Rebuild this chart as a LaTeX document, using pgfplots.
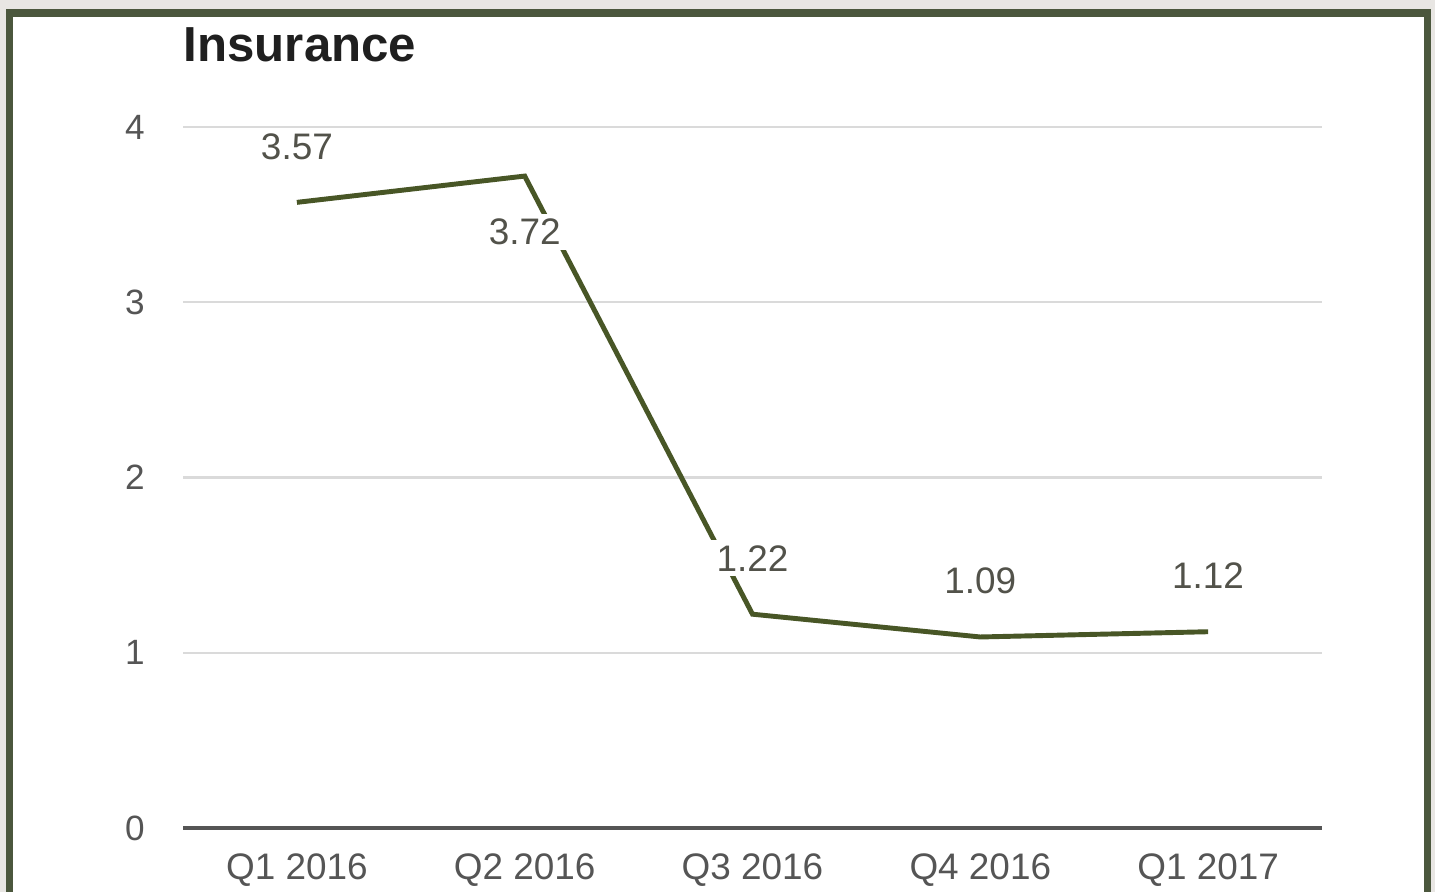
\documentclass[border=0pt]{standalone}
\usepackage{pgfplots}
\pgfplotsset{compat=1.18}
\usepackage{pgfplotstable}
\usepackage{fontspec}
\setmainfont{Liberation Sans}
\definecolor{framec}{RGB}{75,87,61}
\definecolor{bgout}{RGB}{232,230,227}
\definecolor{linegreen}{RGB}{72,86,38}
\definecolor{gridc}{RGB}{218,218,218}
\definecolor{labc}{RGB}{82,82,74}
\definecolor{tickc}{RGB}{85,85,85}

% Insurance, quarterly
\pgfplotstableread{
x y off
0 3.57 0.56
1 3.72 -0.56
2 1.22 0.56
3 1.09 0.56
4 1.12 0.56
}\datatable

\begin{document}
\begin{tikzpicture}[x=1cm,y=1cm]
\fill[bgout] (0,0) rectangle (14.35,8.92);
\fill[framec] (0.06,0) rectangle (14.31,8.83);
\fill[white] (0.13,0) rectangle (14.24,8.75);
\useasboundingbox (0,0) rectangle (14.35,8.92);
\node[anchor=base west, inner sep=0, font=\fontsize{14}{16}\selectfont\bfseries, text=black!88] at (1.83,8.30) {Insurance};
\begin{axis}[
  at={(1.83cm,0.64cm)}, anchor=south west,
  scale only axis, width=11.39cm, height=7.01cm,
  xmin=-0.5, xmax=4.5, ymin=0, ymax=4,
  axis lines=left,
  x axis line style={-, draw=tickc, line width=1.1pt},
  y axis line style={draw=none},
  major tick length=0pt,
  xtick={0,1,2,3,4},
  xticklabels={Q1 2016, Q2 2016, Q3 2016, Q4 2016, Q1 2017},
  ytick={0,1,2,3,4},
  ymajorgrids,
  grid style={gridc, line width=0.7pt},
  /pgf/number format/assume math mode=true,
  xticklabel style={font=\fontsize{10.5}{12}\selectfont, text=tickc, yshift=-0.13cm},
  yticklabel style={font=\fontsize{10}{12}\selectfont, text=tickc, xshift=-0.26cm},
  clip=false,
]
\addplot[linegreen, line width=1.4pt, no markers,
  point meta=explicit,
  nodes near coords={\pgfmathprintnumber[assume math mode=true]{\pgfplotspointmeta}},
  visualization depends on={\thisrow{off}\as\off},
  every node near coord/.append style={anchor=center, yshift=\off cm, fill=white, inner sep=1.5pt,
    font=\fontsize{10.5}{12}\selectfont, text=labc}]
  table[x=x, y=y, meta=y] {\datatable};
\end{axis}
\end{tikzpicture}
\end{document}
